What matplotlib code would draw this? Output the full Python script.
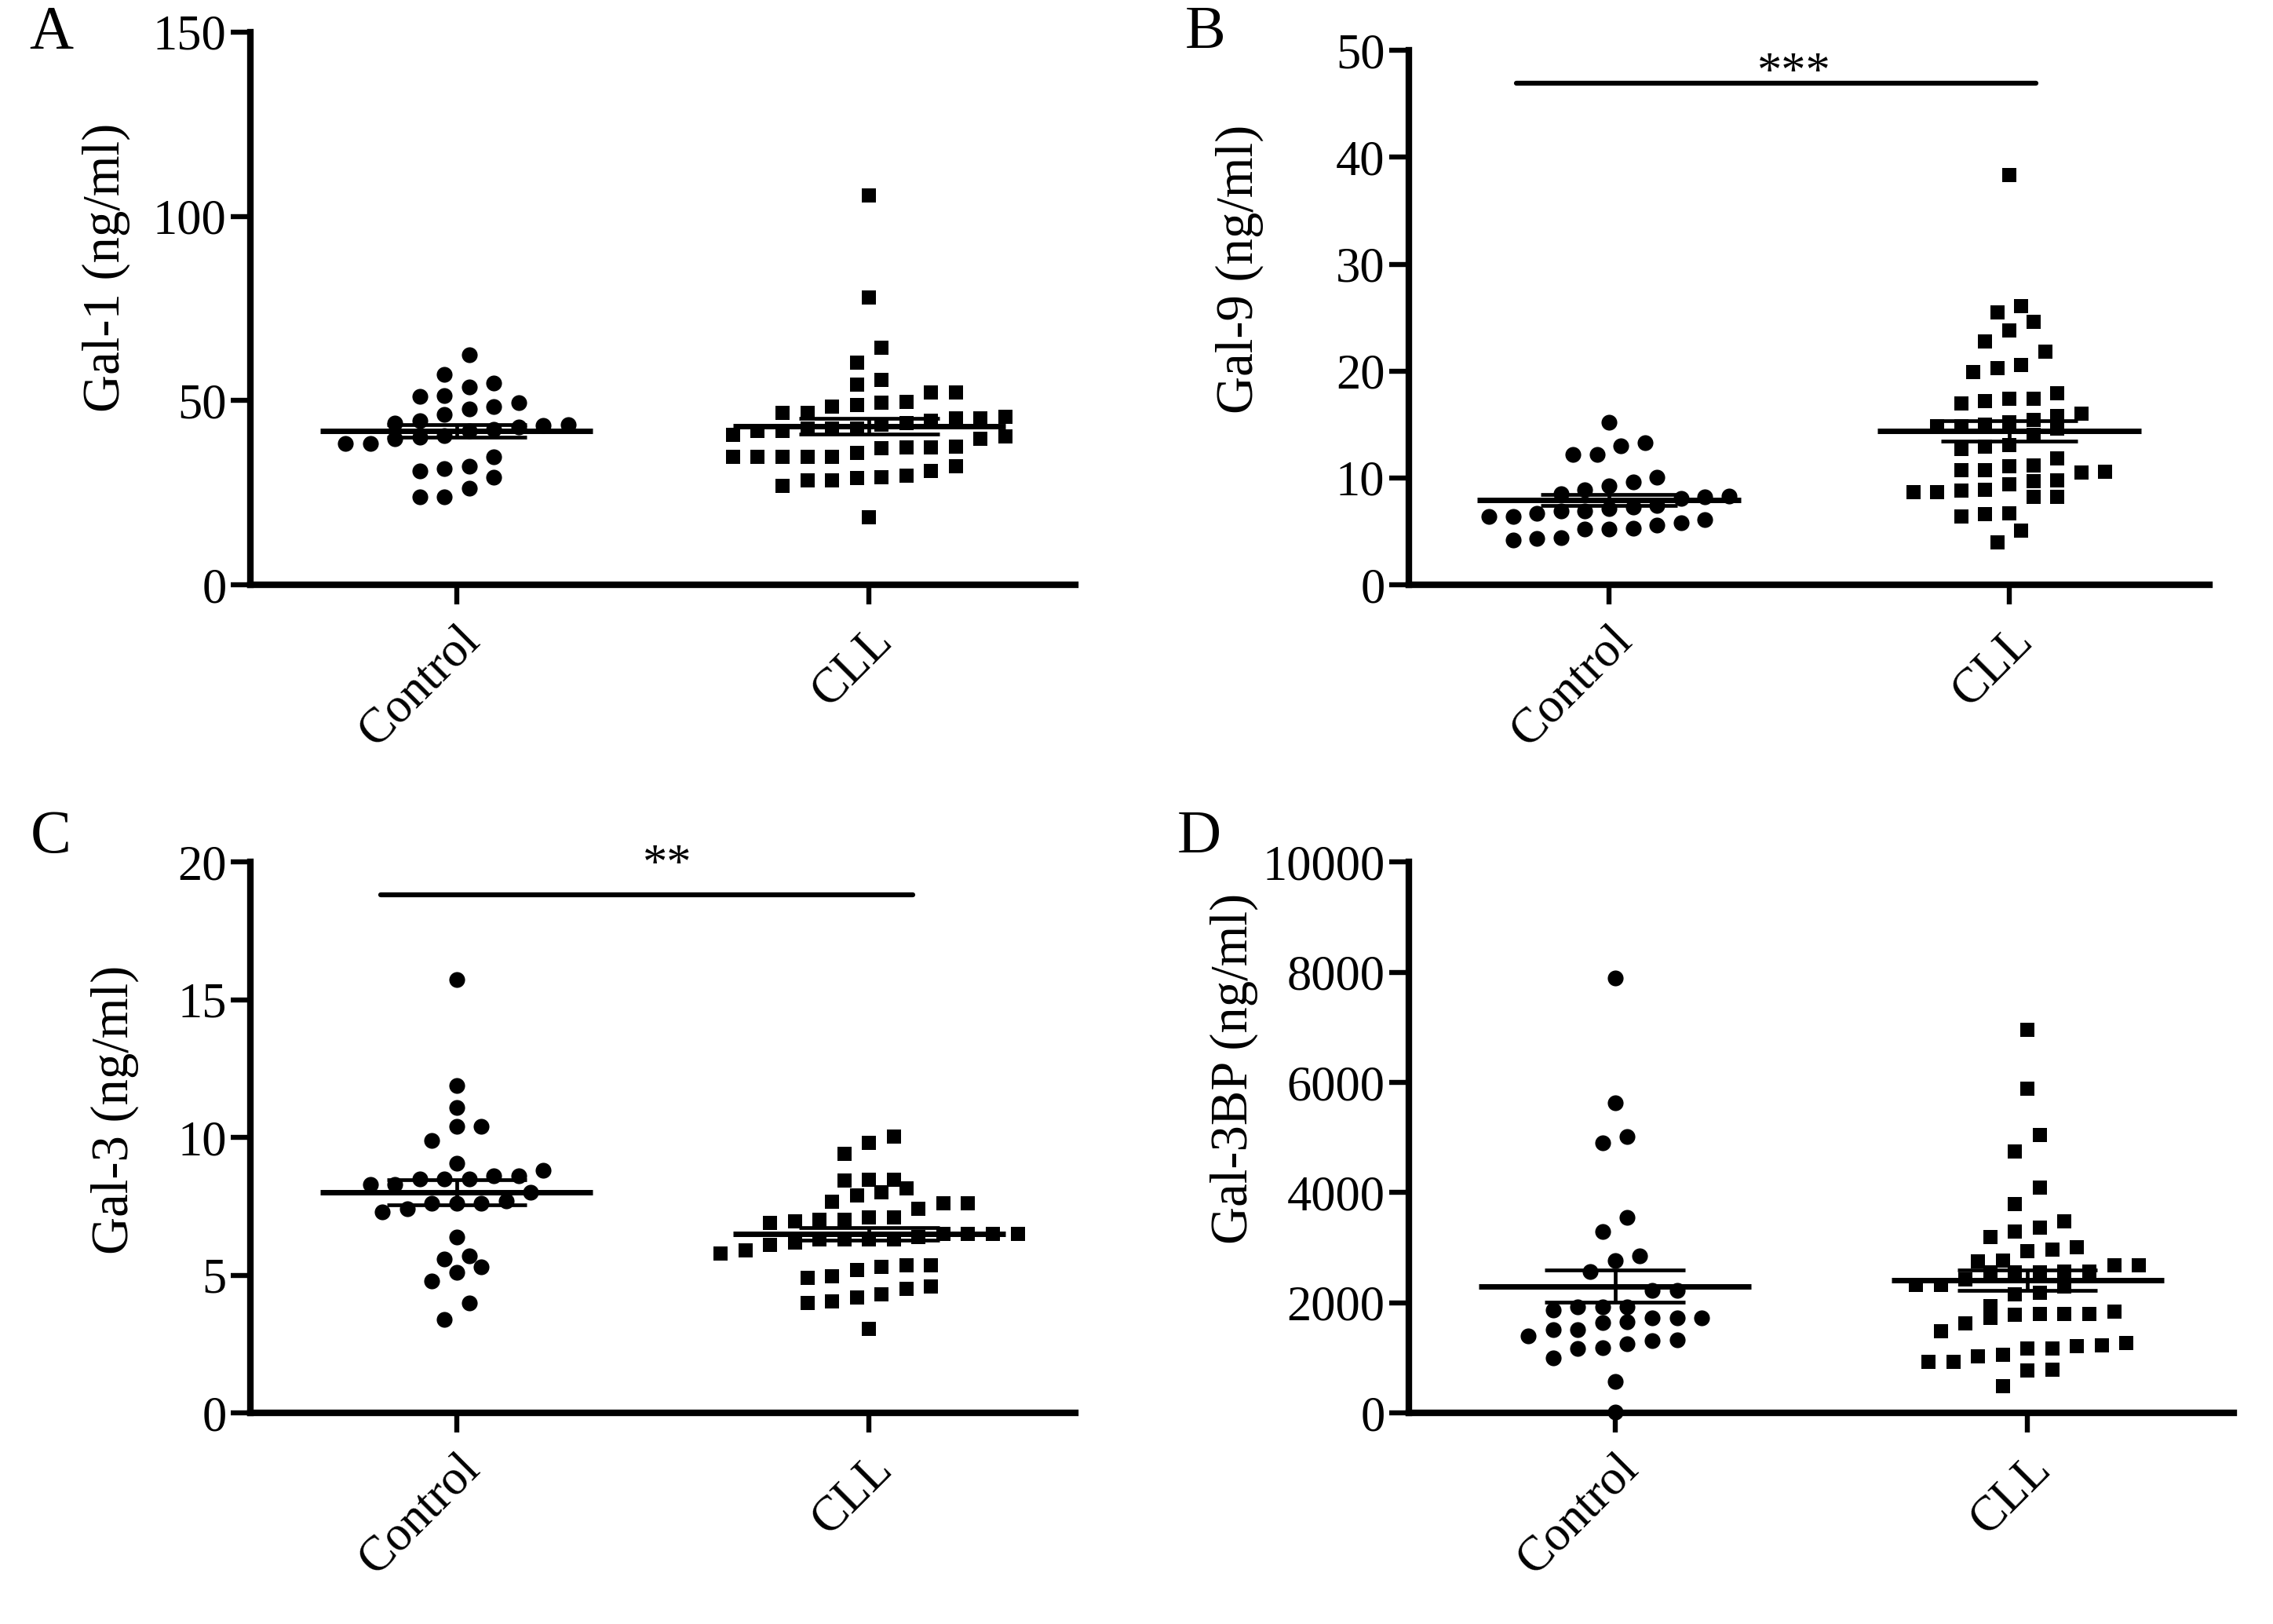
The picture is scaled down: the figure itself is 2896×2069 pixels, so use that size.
import numpy as np
import matplotlib
matplotlib.use('Agg')
import matplotlib.pyplot as plt

plt.rcParams['font.family'] = ['Liberation Serif', 'DejaVu Serif']

# 数据
groups = ['Control', 'CLL']

gal1_control = [62.5, 57.1, 53.6, 54.7, 51.3, 49.5, 47.8, 48.4, 51.1, 46.2, 43.3, 42.2,
                44.0, 44.6, 40.4, 39.7, 38.3, 38.3, 40.0, 42.9, 43.5, 34.8, 31.5, 31.0,
                32.1, 29.1, 26.3, 23.9, 23.9, 41.8]
gal1_cll = [105.7, 78.0, 64.3, 60.3, 55.7, 54.3, 52.2, 52.2, 49.7, 49.5, 48.4, 48.9,
            46.7, 45.1, 44.0, 45.1, 45.7, 46.7, 42.4, 41.8, 42.4, 41.8, 42.4, 44.6,
            43.5, 40.8, 40.2, 39.7, 37.2, 37.0, 32.1, 34.8, 34.8, 34.8, 34.8, 34.8,
            35.9, 37.2, 37.5, 29.6, 29.0, 28.3, 26.8, 28.3, 29.1, 31.0, 18.3]

gal9_control = [15.2, 13.3, 13.0, 12.2, 12.2, 10.1, 9.6, 9.25, 8.5, 8.2, 8.9, 8.3,
                8.05, 7.4, 7.1, 6.9, 6.7, 6.9, 7.3, 6.4, 6.1, 5.6, 5.2, 4.4, 4.2,
                4.3, 5.2, 5.3, 5.8, 6.4]
gal9_cll = [38.3, 26.1, 25.5, 24.6, 23.8, 22.8, 21.8, 20.6, 19.9, 20.3, 17.4, 17.2,
            17.0, 17.4, 17.9, 16.0, 15.8, 15.4, 15.2, 15.0, 14.8, 14.6, 14.8, 14.0,
            13.1, 12.9, 12.7, 11.2, 11.1, 11.8, 10.7, 10.6, 10.7, 10.5, 9.8, 9.7,
            9.4, 8.2, 8.9, 8.7, 8.7, 8.8, 8.2, 6.6, 6.4, 6.7, 5.1, 4.0]

gal3_control = [15.75, 11.9, 11.1, 10.4, 10.4, 9.9, 9.06, 8.8, 8.6, 8.5, 8.5, 8.5,
                8.6, 8.3, 8.3, 8.0, 7.7, 7.6, 7.4, 7.3, 7.6, 7.6, 6.4, 5.7, 5.6,
                5.3, 5.1, 4.8, 4.0, 3.4]
gal3_cll = [10.04, 9.8, 9.4, 8.46, 8.43, 8.46, 8.0, 7.9, 8.15, 7.6, 7.4, 7.6, 7.66,
            7.1, 7.0, 6.9, 6.96, 7.0, 7.1, 6.5, 6.5, 6.5, 6.5, 6.3, 6.2, 6.3, 6.3,
            6.1, 6.3, 6.4, 5.8, 5.9, 5.35, 5.3, 5.2, 5.35, 4.96, 4.9, 4.6, 4.3,
            4.06, 4.0, 4.2, 4.5, 3.04]

gal3bp_control = [7890, 5630, 5020, 4900, 3550, 3290, 2850, 2760, 2570, 2220, 2230,
                  1920, 1870, 1920, 1920, 1730, 1660, 1645, 1730, 1730, 1505, 1505,
                  1330, 1260, 1170, 1190, 1310, 1400, 995, 575, 15]
gal3bp_cll = [6960, 5890, 5040, 4750, 4090, 3790, 3480, 3290, 3370, 3200, 3010, 2970,
              2930, 2765, 2675, 2745, 2675, 2570, 2570, 2550, 2550, 2550, 2320, 2320,
              2150, 2290, 2185, 2430, 1940, 1835, 1800, 1730, 1800, 1785, 1800, 1625,
              1485, 1225, 1170, 925, 1050, 785, 1030, 1170, 770, 1205, 925, 1275, 490]

W, H = 2896, 2069
fig = plt.figure(figsize=(W / 100, H / 100), dpi=100)


def swarm(vals, ppu, marker_px=26, step=0.06):
    # GraphPad-like column scatter: points closer than a marker height share a row
    vals = np.asarray(vals, float)
    order = np.argsort(vals)
    offs = np.zeros(len(vals))
    rows, cur, start = [], [order[0]], vals[order[0]]
    for i in order[1:]:
        if vals[i] - start < marker_px / ppu:
            cur.append(i)
        else:
            rows.append(cur)
            cur, start = [i], vals[i]
    rows.append(cur)
    for r in rows:
        n = len(r)
        for k, idx in enumerate(r):
            offs[idx] = (k - (n - 1) / 2) * step
    return offs


def panel(rect, letter, letter_xy, ylabel, ylab_xy, ctrl, cll, ylim, yticks, sig=None):
    ax = fig.add_axes(rect)
    ax.set_xlim(-0.5, 1.5)
    ax.set_ylim(*ylim)
    ppu = rect[3] * H / (ylim[1] - ylim[0])
    for i, (vals, mk, ms) in enumerate([(ctrl, 'o', 14.5), (cll, 's', 13.5)]):
        vals = np.asarray(vals, float)
        ax.plot(i + swarm(vals, ppu), vals, ls='none', marker=mk, ms=ms,
                color='black', mew=0, zorder=3, clip_on=False)
        m = vals.mean()
        sem = vals.std(ddof=1) / np.sqrt(len(vals))
        ax.hlines(m, i - 0.33, i + 0.33, lw=5, color='black', zorder=4)
        ax.hlines([m - sem, m + sem], i - 0.17, i + 0.17, lw=3.4, color='black', zorder=4)
        ax.vlines(i, m - sem, m + sem, lw=3.4, color='black', zorder=4)
    if sig:
        x0, x1, yb, sx, sy, txt = sig
        ax.plot([x0, x1], [yb, yb], color='black', lw=4.5, solid_capstyle='round',
                clip_on=False)
        ax.text(sx, sy, txt, ha='center', va='baseline', fontsize=45, clip_on=False)
    ax.set_yticks(yticks)
    ax.set_xticks([0, 1])
    ax.set_xticklabels(groups, rotation=45, ha='right', va='top', rotation_mode='anchor')
    ax.spines[['top', 'right']].set_visible(False)
    for s in ['left', 'bottom']:
        ax.spines[s].set_linewidth(6)
    ax.tick_params(axis='both', length=18, width=4.6, labelsize=45, direction='out')
    ax.tick_params(axis='y', pad=4)
    ax.tick_params(axis='x', pad=12)
    ax.set_ylabel(ylabel, fontsize=48)
    ax.yaxis.set_label_coords(*ylab_xy)
    fig.text(letter_xy[0], letter_xy[1], letter, fontsize=56, va='baseline')
    return ax


panel([0.1102, 0.6399, 0.3629, 0.3403], 'A', (0.0128, 0.9705), 'Gal-1 (ng/ml)',
      (-0.1456, 0.574), gal1_control, gal1_cll, (0, 150), [0, 50, 100, 150])
panel([0.6198, 0.6399, 0.3522, 0.3291], 'B', (0.5214, 0.9705), 'Gal-9 (ng/ml)',
      (-0.181, 0.59), gal9_control, gal9_cll, (0, 50), [0, 10, 20, 30, 40, 50],
      sig=(-0.231, 1.066, 46.95, 0.463, 46.6, '***'))
panel([0.1102, 0.1300, 0.3629, 0.3391], 'C', (0.0135, 0.4751), 'Gal-3 (ng/ml)',
      (-0.135, 0.55), gal3_control, gal3_cll, (0, 20), [0, 5, 10, 15, 20],
      sig=(-0.185, 1.105, 18.82, 0.51, 19.4, '**'))
panel([0.6198, 0.1300, 0.3629, 0.3391], 'D', (0.518, 0.4751), 'Gal-3BP (ng/ml)',
      (-0.183, 0.625), gal3bp_control, gal3bp_cll, (0, 10000),
      [0, 2000, 4000, 6000, 8000, 10000])

fig.savefig('out.png', dpi=100, facecolor='white')
